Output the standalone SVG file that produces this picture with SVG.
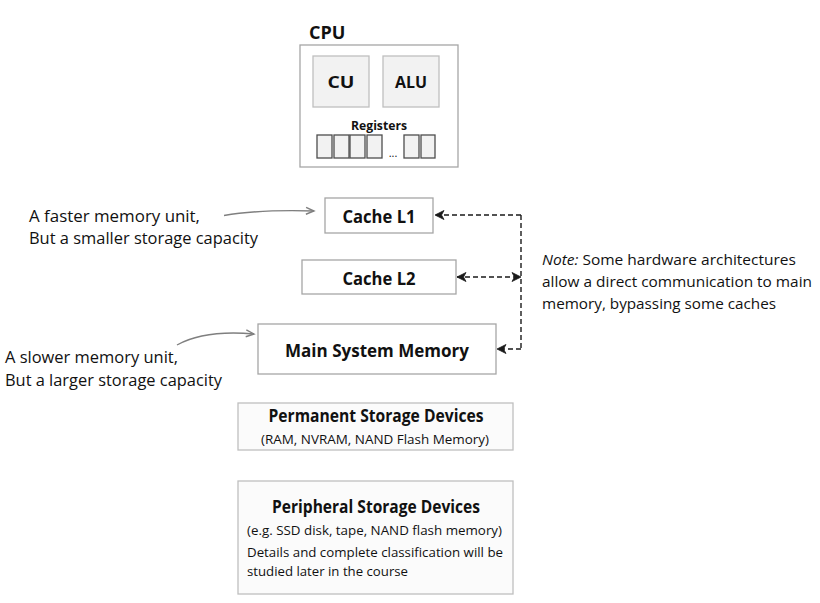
<svg xmlns="http://www.w3.org/2000/svg" width="820" height="603" viewBox="0 0 820 603">
<style>
text { font-family: "Open Sans", "Noto Sans", "Liberation Sans", sans-serif; fill: #111; }
.b { font-weight: bold; }
.box { fill: #ffffff; stroke: #a6a6a6; stroke-width: 1.3; }
.inner { fill: #f2f2f2; stroke: #bfbfbf; stroke-width: 1.3; }
.reg { fill: #f2f2f2; stroke: #4d4d4d; stroke-width: 1.3; }
.store { fill: #fbfbfb; stroke: #bfbfbf; stroke-width: 1.3; }
.dash { fill: none; stroke: #1a1a1a; stroke-width: 1.4; stroke-dasharray: 5 3; }
.grey { fill: none; stroke: #7f7f7f; stroke-width: 1.4; }
</style>
<defs>
<marker id="chev" markerUnits="userSpaceOnUse" markerWidth="12" markerHeight="12" refX="10" refY="5" orient="auto-start-reverse" viewBox="0 0 12 10">
<path d="M1,0.5 L10,5 L1,9.5 L3.5,5 Z" fill="#1a1a1a" stroke="#1a1a1a" stroke-width="0.8" stroke-linejoin="round"/>
</marker>
<marker id="gchev" markerUnits="userSpaceOnUse" markerWidth="12" markerHeight="12" refX="9" refY="5" orient="auto" viewBox="0 0 12 10">
<path d="M1,1.5 L9,5 L1,8.5" fill="none" stroke="#7f7f7f" stroke-width="1.4"/>
</marker>
</defs>
<rect width="820" height="603" fill="#ffffff"/>

<g id="cpu">
<text class="b" x="309" y="39" font-size="18">CPU</text>
<rect class="box" x="300" y="45" width="158" height="122"/>
<g id="cu">
<rect class="inner" x="313" y="56" width="56" height="51"/>
<text class="b" x="341" y="88" font-size="16" text-anchor="middle" textLength="27" lengthAdjust="spacingAndGlyphs">CU</text>
</g>
<g id="alu">
<rect class="inner" x="383" y="56" width="56" height="51"/>
<text class="b" x="411" y="88" font-size="16" text-anchor="middle" textLength="32" lengthAdjust="spacingAndGlyphs">ALU</text>
</g>
<g id="registers">
<text class="b" x="379" y="130" font-size="12.5" text-anchor="middle" textLength="56" lengthAdjust="spacingAndGlyphs">Registers</text>
<rect class="reg" x="317" y="135" width="15" height="23"/>
<rect class="reg" x="334" y="135" width="15" height="23"/>
<rect class="reg" x="350" y="135" width="15" height="23"/>
<rect class="reg" x="367" y="135" width="15" height="23"/>
<text x="393" y="157" font-size="11" text-anchor="middle">...</text>
<rect class="reg" x="404" y="135" width="15" height="23"/>
<rect class="reg" x="421" y="135" width="14" height="23"/>
</g>
</g>

<g id="cache-l1">
<rect class="box" x="325" y="198" width="108" height="35"/>
<text class="b" x="379" y="223" font-size="18" text-anchor="middle" textLength="73" lengthAdjust="spacingAndGlyphs">Cache L1</text>
</g>
<g id="cache-l2">
<rect class="box" x="302" y="260" width="154" height="34"/>
<text class="b" x="379" y="285" font-size="18" text-anchor="middle" textLength="73" lengthAdjust="spacingAndGlyphs">Cache L2</text>
</g>
<g id="main-memory">
<rect class="box" x="258" y="324" width="238" height="50"/>
<text class="b" x="377" y="357" font-size="18" text-anchor="middle" textLength="184" lengthAdjust="spacingAndGlyphs">Main System Memory</text>
</g>
<g id="permanent-storage">
<rect class="store" x="238" y="403" width="275" height="47"/>
<text class="b" x="376" y="422" font-size="17" text-anchor="middle" textLength="215" lengthAdjust="spacingAndGlyphs">Permanent Storage Devices</text>
<text x="375" y="444" font-size="13.5" text-anchor="middle" textLength="228" lengthAdjust="spacingAndGlyphs">(RAM, NVRAM, NAND Flash Memory)</text>
</g>
<g id="peripheral-storage">
<rect class="store" x="238" y="481" width="275" height="113"/>
<text class="b" x="376" y="513" font-size="17" text-anchor="middle" textLength="208" lengthAdjust="spacingAndGlyphs">Peripheral Storage Devices</text>
<text x="247" y="535" font-size="13.5" textLength="255" lengthAdjust="spacingAndGlyphs">(e.g. SSD disk, tape, NAND flash memory)</text>
<text x="247" y="557" font-size="13" textLength="256" lengthAdjust="spacingAndGlyphs">Details and complete classification will be</text>
<text x="247" y="576" font-size="13" textLength="161" lengthAdjust="spacingAndGlyphs">studied later in the course</text>
</g>

<g id="annotations">
<text x="29" y="222" font-size="16" textLength="171" lengthAdjust="spacingAndGlyphs">A faster memory unit,</text>
<text x="29" y="244" font-size="16" textLength="229" lengthAdjust="spacingAndGlyphs">But a smaller storage capacity</text>
<text x="5" y="363" font-size="16" textLength="173" lengthAdjust="spacingAndGlyphs">A slower memory unit,</text>
<text x="5" y="386" font-size="16" textLength="217" lengthAdjust="spacingAndGlyphs">But a larger storage capacity</text>
<text x="542" y="265" font-size="15" textLength="254" lengthAdjust="spacingAndGlyphs"><tspan font-style="italic">Note:</tspan> Some hardware architectures</text>
<text x="542" y="287" font-size="15" textLength="270" lengthAdjust="spacingAndGlyphs">allow a direct communication to main</text>
<text x="542" y="309" font-size="15" textLength="234" lengthAdjust="spacingAndGlyphs">memory, bypassing some caches</text>
</g>

<g id="connectors">
<path class="grey" d="M224,215.5 C250,211 280,210 314,211" marker-end="url(#gchev)"/>
<path class="grey" d="M177,345 C195,335 220,331 254,334" marker-end="url(#gchev)"/>
<path class="dash" d="M521,215 H435" marker-end="url(#chev)"/>
<path class="dash" d="M521,215 V349"/>
<path class="dash" d="M457,277 H521" marker-start="url(#chev)" marker-end="url(#chev)"/>
<path class="dash" d="M521,349 H497" marker-end="url(#chev)"/>
</g>
</svg>
